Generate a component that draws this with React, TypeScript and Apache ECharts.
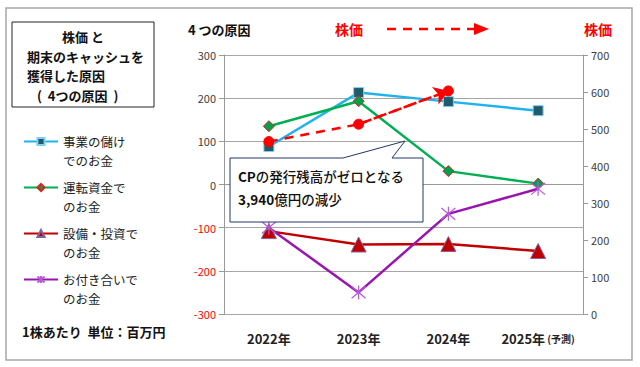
import React, { useEffect, useRef } from "react";
import * as echarts from "echarts";

const categories = ["2022年", "2023年", "2024年", "2025年"];
const seriesNames = ["事業の儲け\nでのお金", "運転資金で\nのお金", "設備・投資で\nのお金", "お付き合いで\nのお金"];
const bizProfit = [88, 213, 192, 171];
const workingCapital = [135, 193, 31, 2];
const capex = [-108, -139, -138, -154];
const relations = [-100, -250, -68, -10];
const stockPrice = [466, 513, 603];
const leftTicks = { min: -300, max: 300, interval: 100 };
const rightTicks = { min: 0, max: 700, interval: 100 };

const JP = '"Noto Sans CJK JP", "Noto Sans", sans-serif';
const ASTER = "path://M1,1L11,11M11,1L1,11M6,0L6,12";

export default function App() {
  const ref = useRef<HTMLDivElement>(null);
  useEffect(() => {
    if (!ref.current) return;
    const chart = echarts.init(ref.current, undefined, { renderer: "svg" });
    const lw = 2.5;
    chart.setOption({
      animation: false,
      textStyle: { fontFamily: JP },
      grid: { left: 224, right: 57, top: 55, bottom: 53 },
      legend: {
        orient: "vertical",
        left: 18,
        top: 108,
        itemWidth: 34,
        itemHeight: 9,
        itemGap: -11,
        data: seriesNames,
        formatter: (n: string) => " \n" + n,
        textStyle: { fontSize: 12.5, lineHeight: 19, color: "#222", fontFamily: JP },
        selectedMode: false,
      },
      xAxis: {
        type: "category",
        data: categories,
        axisLine: { show: true, lineStyle: { color: "#999" } },
        axisTick: { show: false },
        axisLabel: {
          interval: 0,
          margin: 18,
          formatter: (v: string) => (v === "2025年" ? "{b|" + v + "}{s| (予測)}" : "{b|" + v + "}"),
          rich: {
            b: { fontSize: 13, fontWeight: "bold", color: "#222", fontFamily: JP },
            s: { fontSize: 10, fontWeight: "bold", color: "#222", fontFamily: JP },
          },
        },
      },
      yAxis: [
        {
          type: "value",
          ...leftTicks,
          axisLine: { show: true, lineStyle: { color: "#999" } },
          axisTick: { show: true, length: 5, lineStyle: { color: "#999" } },
          splitLine: { show: true, lineStyle: { color: "#A6A6A6", width: 1 } },
          axisLabel: {
            fontSize: 11,
            color: (v: any) => (Number(v) < 0 ? "#FF0000" : "#404040"),
            margin: 8,
          },
        },
        {
          type: "value",
          ...rightTicks,
          axisLine: { show: true, lineStyle: { color: "#999" } },
          axisTick: { show: true, length: 5, lineStyle: { color: "#999" } },
          splitLine: { show: false },
          axisLabel: { fontSize: 11, color: "#404040", margin: 8 },
        },
      ],
      series: [
        {
          name: seriesNames[0],
          type: "line",
          data: bizProfit,
          symbol: "rect",
          symbolSize: 10,
          lineStyle: { color: "#1FB3EC", width: lw },
          itemStyle: { color: "#215A6B", borderColor: "#7FD0F0", borderWidth: 1 },
          z: 3,
        },
        {
          name: seriesNames[1],
          type: "line",
          data: workingCapital,
          symbol: "diamond",
          symbolSize: 11,
          lineStyle: { color: "#00B050", width: lw },
          itemStyle: { color: "#00A050", borderColor: "#E0201C", borderWidth: 1 },
          z: 3,
        },
        {
          name: seriesNames[2],
          type: "line",
          data: capex,
          symbol: "triangle",
          symbolSize: 15,
          lineStyle: { color: "#C00000", width: lw },
          itemStyle: { color: "#C00000", borderColor: "#8064A2", borderWidth: 1 },
          z: 3,
        },
        {
          name: seriesNames[3],
          type: "line",
          data: relations,
          symbol: ASTER,
          symbolSize: 14,
          lineStyle: { color: "#9A14B0", width: lw },
          itemStyle: { color: "none", borderColor: "#B45CD6", borderWidth: 1.2 },
          z: 3,
        },
        {
          name: "株価",
          type: "line",
          yAxisIndex: 1,
          data: stockPrice,
          symbol: "circle",
          symbolSize: 10,
          lineStyle: { color: "#FF0000", width: lw, type: [9, 7] },
          itemStyle: { color: "#FF0000", borderColor: "#FF0000", borderWidth: 1 },
          z: 4,
          markLine: {
            silent: true,
            symbol: ["none", "arrow"],
            symbolSize: 14,
            label: { show: false },
            lineStyle: { color: "#FF0000", width: lw, type: [9, 7] },
            data: [[{ coord: [categories[1], stockPrice[1]] }, { coord: [categories[2], stockPrice[2]] }]],
          },
        },
      ],
      graphic: [
        { type: "rect", shape: { x: 6, y: 8, width: 626, height: 352 }, style: { fill: "none", stroke: "#A6A6A6", lineWidth: 1.5 }, z: -1 },
        { type: "rect", shape: { x: 12, y: 22, width: 142, height: 85 }, style: { fill: "#fff", stroke: "#222", lineWidth: 1 } },
        { type: "text", x: 62, y: 36, style: { text: "株価 と", font: "bold 13px " + JP, fill: "#111", verticalAlign: "middle" } },
        { type: "text", x: 27, y: 56, style: { text: "期末のキャッシュを", font: "bold 13px " + JP, fill: "#111", verticalAlign: "middle" } },
        { type: "text", x: 27, y: 75, style: { text: "獲得した原因", font: "bold 13px " + JP, fill: "#111", verticalAlign: "middle" } },
        { type: "text", x: 37, y: 95, style: { text: "(  4つの原因  )", font: "bold 13px " + JP, fill: "#111", verticalAlign: "middle" } },
        { type: "text", x: 22, y: 331, style: { text: "1株あたり  単位：百万円", font: "bold 13px " + JP, fill: "#111", verticalAlign: "middle" } },
        { type: "text", x: 188, y: 29, style: { text: "4 つの原因", font: "bold 13px " + JP, fill: "#111", verticalAlign: "middle" } },
        { type: "text", x: 335, y: 29, style: { text: "株価", font: "bold 14px " + JP, fill: "#FF0000", verticalAlign: "middle" } },
        { type: "text", x: 584, y: 29, style: { text: "株価", font: "bold 14px " + JP, fill: "#FF0000", verticalAlign: "middle" } },
        { type: "line", shape: { x1: 387, y1: 29, x2: 476, y2: 29 }, style: { stroke: "#FF0000", lineWidth: 2.5, lineDash: [9, 7] } },
        { type: "polygon", shape: { points: [[474, 23], [489, 29], [474, 35]] }, style: { fill: "#FF0000" } },
        {
          type: "polygon",
          shape: { points: [[230, 158], [343, 158], [405, 141], [392, 158], [423, 158], [423, 222], [230, 222]] },
          style: { fill: "#fff", stroke: "#1F3864", lineWidth: 1 },
          z: 10,
        },
        {
          type: "text",
          x: 238,
          y: 176,
          z: 11,
          style: {
            text: "{b|CP}{n|の発行残高がゼロとなる}",
            verticalAlign: "middle",
            rich: {
              b: { font: "bold 13.5px " + JP, fill: "#111" },
              n: { font: "500 13.5px " + JP, fill: "#111" },
            },
          },
        },
        {
          type: "text",
          x: 238,
          y: 199,
          z: 11,
          style: {
            text: "{b|3,940}{n|億円の減少}",
            verticalAlign: "middle",
            rich: {
              b: { font: "bold 13.5px " + JP, fill: "#111" },
              n: { font: "500 13.5px " + JP, fill: "#111" },
            },
          },
        },
      ],
    });
    return () => chart.dispose();
  }, []);
  return <div ref={ref} style={{ position: "fixed", left: 0, top: 0, width: 640, height: 367, background: "#fff" }} />;
}
